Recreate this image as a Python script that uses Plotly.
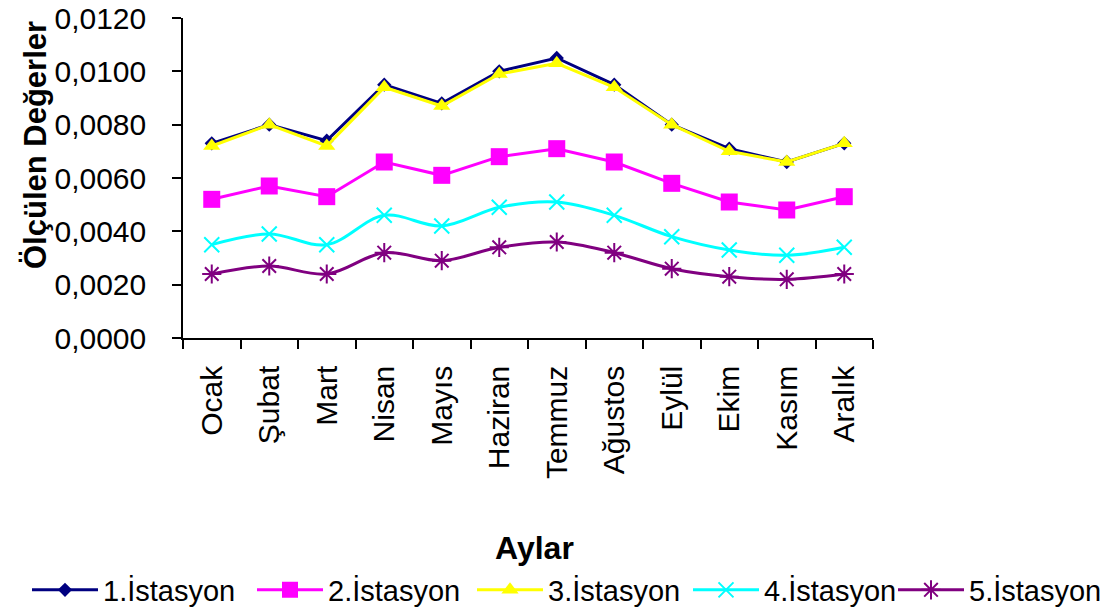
import plotly.graph_objects as go

# Aylık ölçülen değerler, beş istasyon
aylar = ["Ocak", "Şubat", "Mart", "Nisan", "Mayıs", "Haziran",
         "Temmuz", "Ağustos", "Eylül", "Ekim", "Kasım", "Aralık"]

istasyon1 = [0.0073, 0.0080, 0.0074, 0.0095, 0.0088, 0.0100,
             0.0105, 0.0095, 0.0080, 0.0071, 0.0066, 0.0073]
istasyon2 = [0.0052, 0.0057, 0.0053, 0.0066, 0.0061, 0.0068,
             0.0071, 0.0066, 0.0058, 0.0051, 0.0048, 0.0053]
istasyon3 = [0.0072, 0.0080, 0.0072, 0.0094, 0.0087, 0.0099,
             0.0103, 0.0094, 0.0080, 0.0070, 0.0066, 0.0073]
istasyon4 = [0.0035, 0.0039, 0.0035, 0.0046, 0.0042, 0.0049,
             0.0051, 0.0046, 0.0038, 0.0033, 0.0031, 0.0034]
istasyon5 = [0.0024, 0.0027, 0.0024, 0.0032, 0.0029, 0.0034,
             0.0036, 0.0032, 0.0026, 0.0023, 0.0022, 0.0024]

y_tick_values = [0.0, 0.002, 0.004, 0.006, 0.008, 0.010, 0.012]

FONT = "Liberation Sans, Arial, sans-serif"
W, H = 1117, 614

series = [
    ("1.İstasyon", istasyon1, "#000080", dict(symbol="diamond", size=11, color="#000080"), "linear"),
    ("2.İstasyon", istasyon2, "#FF00FF", dict(symbol="square", size=17, color="#FF00FF"), "linear"),
    ("3.İstasyon", istasyon3, "#FFFF00", dict(symbol="triangle-up", size=15, color="#FFFF00"), "linear"),
    ("4.İstasyon", istasyon4, "#00FFFF", dict(symbol="x-thin-open", size=15, color="#00FFFF",
                                              line=dict(width=2, color="#00FFFF")), "spline"),
    ("5.İstasyon", istasyon5, "#800080", dict(symbol="asterisk-open", size=16, color="#800080",
                                              line=dict(width=2, color="#800080")), "spline"),
]

# Her istasyon kendi lejant kutusunda; kutular alt kenarda yan yana dizilir
legend_ids = ["legend", "legend2", "legend3", "legend4", "legend5"]
legend_left_px = [27, 252, 472, 688, 893]

fig = go.Figure()
for (name, vals, color, marker, shape), lid in zip(series, legend_ids):
    fig.add_trace(go.Scatter(
        x=aylar, y=vals, name=name, mode="lines+markers",
        line=dict(color=color, width=3, shape=shape),
        marker=marker, legend=lid,
    ))

legend_layout = {
    lid: dict(
        orientation="h", xref="container", yref="container",
        x=left / W, xanchor="left", y=1 - 590 / H, yanchor="middle",
        font=dict(size=29), itemwidth=66,
        bgcolor="rgba(0,0,0,0)",
    )
    for lid, left in zip(legend_ids, legend_left_px)
}

fig.update_layout(
    width=W, height=H,
    margin=dict(l=183, r=244, t=18, b=276, autoexpand=False),
    paper_bgcolor="white", plot_bgcolor="white",
    separators=",.",
    font=dict(family=FONT, size=30, color="black"),
    showlegend=True,
    **legend_layout,
)

# Eksen başlıkları
fig.add_annotation(
    text="<b>Ölçülen Değerler</b>", textangle=-90,
    xref="paper", yref="paper", x=-(183 - 35) / 690, y=(338 - 145) / 320,
    xanchor="center", yanchor="middle", showarrow=False,
    font=dict(size=31),
)
fig.add_annotation(
    text="<b>Aylar</b>",
    xref="paper", yref="paper", x=(534 - 183) / 690, y=-(548 - 338) / 320,
    xanchor="center", yanchor="middle", showarrow=False,
    font=dict(size=32),
)

fig.update_xaxes(
    type="category", tickangle=-90, tickson="boundaries",
    ticks="outside", ticklen=9, tickcolor="black", tickwidth=1.5,
    showline=True, linecolor="black", linewidth=1.5,
    showgrid=False, zeroline=False,
    tickfont=dict(size=30), ticklabelstandoff=14,
    range=[-0.5, 11.5],
)

fig.update_yaxes(
    range=[0, 0.012], tickvals=y_tick_values, tickformat=".4f",
    ticks="outside", ticklen=9, tickcolor="black", tickwidth=1.5,
    showline=True, linecolor="black", linewidth=1.5,
    showgrid=False, zeroline=False,
    tickfont=dict(size=30), ticklabelstandoff=20,
)

fig.write_html("out.html")
